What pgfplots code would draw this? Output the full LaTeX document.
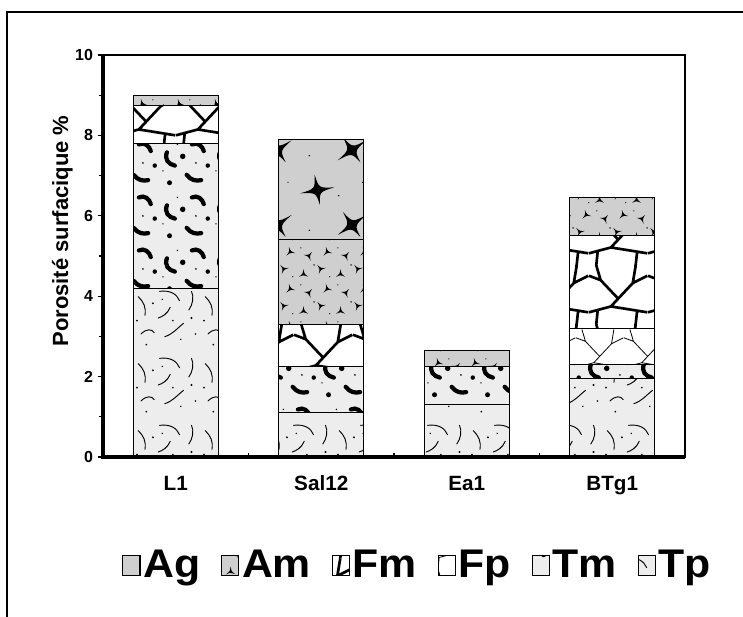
\documentclass[border=0pt]{standalone}
\usepackage{fontspec}
\setmainfont{Liberation Sans}
\newfontfamily\legfont{Liberation Sans}[FakeStretch=1.07]
\usepackage{pgfplots}
\usepackage{pgfplotstable}
\pgfplotsset{compat=1.18}
\usetikzlibrary{patterns.meta}

% little shapes used inside the fill patterns (no "cycle": patterns are built outside a picture)
\newcommand\tri[3]{\fill[shift={(#1pt,#2pt)},rotate=#3] (90:4pt) .. controls (150:0.6pt) .. (210:4pt) .. controls (270:0.6pt) .. (330:4pt) .. controls (30:0.6pt) .. (90:4pt);}
\newcommand\agstar[3]{\fill[shift={(#1pt,#2pt)},rotate=#3] (0:13pt) .. controls (45:2pt) .. (90:12pt) .. controls (135:2pt) .. (180:13pt) .. controls (225:2pt) .. (270:11pt) .. controls (315:2pt) .. (0:13pt);}
\newcommand\netcode{(0,8)--(15,12)--(40,8) (15,12)--(30,28)--(40,33) (0,33)--(8,30)--(5,40) (5,0)--(6,9.6) (30,28)--(32,40) (32,0)--(33,9.12) (8,30)--(20,17.33)}

\tikzdeclarepattern{
  name=Tp, type=uncolored,
  bounding box={(0pt,0pt) and (50pt,50pt)},
  tile size={(50pt,50pt)},
  code={
    \draw[line width=0.7pt, x=1pt, y=1pt, line cap=round]
      (4,40) .. controls (8,36) and (10,32) .. (9,26)
      (20,44) .. controls (28,45) and (33,42) .. (35,37)
      (38,20) .. controls (33,16) and (30,12) .. (24,10)
      (6,12) .. controls (10,16) and (14,16) .. (16,13)
      (44,44) .. controls (46,40) and (45,34) .. (42,30)
      (28,32) .. controls (26,27) and (22,25) .. (19,24);
    \fill (15pt,35pt) circle (0.8pt) (30pt,22pt) circle (0.7pt) (44pt,24pt) circle (0.8pt)
      (10pt,4pt) circle (0.7pt) (36pt,8pt) circle (0.6pt) (22pt,38pt) circle (0.6pt)
      (3pt,22pt) circle (0.7pt) (47pt,12pt) circle (0.6pt);
  }}
\tikzdeclarepattern{
  name=Tm, type=uncolored,
  bounding box={(0pt,0pt) and (40pt,40pt)},
  tile size={(40pt,40pt)},
  code={
    \draw[line width=3.2pt, x=1pt, y=1pt, line cap=round]
      (6,30) .. controls (4,25) and (7,21) .. (12,20)
      (25,36) .. controls (29,38) and (33,35) .. (34,31)
      (21,13) .. controls (24,9) and (28,8) .. (32,9);
    \fill (18pt,27pt) circle (2.1pt) (37pt,20pt) circle (1.7pt) (8pt,7pt) circle (1.9pt)
      (28pt,22pt) circle (0.7pt) (14pt,36pt) circle (0.6pt) (3pt,16pt) circle (0.6pt);
  }}
\tikzdeclarepattern{
  name=Fm, type=uncolored,
  bounding box={(0pt,0pt) and (44pt,44pt)},
  tile size={(44pt,44pt)},
  code={\draw[line width=2pt, x=1.1pt, y=1.1pt] \netcode;}}
\tikzdeclarepattern{
  name=Fp, type=uncolored,
  bounding box={(0pt,0pt) and (36pt,36pt)},
  tile size={(36pt,36pt)},
  code={\draw[line width=0.6pt, x=0.9pt, y=0.9pt] \netcode;}}
\tikzdeclarepattern{
  name=Am, type=uncolored,
  bounding box={(0pt,0pt) and (28pt,28pt)},
  tile size={(28pt,28pt)},
  code={
    \tri{5}{6}{0}\tri{18}{10}{40}\tri{9}{20}{80}\tri{23}{23}{15}
    \fill (13pt,13pt) circle (0.6pt) (25pt,4pt) circle (0.5pt) (3pt,26pt) circle (0.5pt);
  }}
\tikzdeclarepattern{
  name=Ag, type=uncolored,
  bounding box={(0pt,0pt) and (56pt,56pt)},
  tile size={(56pt,56pt)},
  code={
    \agstar{14}{40}{10}\agstar{40}{14}{35}
    \fill (30pt,36pt) circle (0.6pt) (8pt,10pt) circle (0.6pt) (48pt,46pt) circle (0.5pt);
  }}

\pgfplotstableread{
x Tp Tm Fp Fm Am Ag
0 4.2 3.6 0 0.95 0.25 0
1 1.1 1.15 0 1.05 2.1 2.5
2 1.3 0.95 0 0 0.4 0
3 1.95 0.35 0.9 2.3 0.95 0
}\porosite

\pgfplotsset{
  boxleg/.style={legend image code/.code={\draw[##1] (-2pt,-7.5pt) rectangle (11pt,7.5pt);}},
}

\begin{document}
\begin{tikzpicture}
\useasboundingbox (-77.25pt,-120pt) rectangle (480pt,342.75pt);
\draw[line width=1.1pt] (480pt,333.75pt) -- (-72pt,333.75pt) -- (-72pt,-120pt);
\begin{axis}[
  at={(0pt,0pt)}, anchor=south west,
  scale only axis, width=436.5pt, height=301.5pt,
  ybar stacked, bar width=0.586,
  xmin=-0.5, xmax=3.5, ymin=0, ymax=10,
  xtick={0,1,2,3}, xticklabels={L1,Sal12,Ea1,BTg1},
  minor xtick={0.5,1.5,2.5},
  major x tick style={draw=none},
  xtick pos=bottom, xtick align=inside,
  ytick={0,2,...,10}, minor ytick={1,3,...,9},
  ytick pos=left, ytick align=outside,
  major tick length=4pt, minor tick length=3pt,
  tick style={black, line width=0.8pt},
  axis line style={line width=1.2pt},
  /pgf/number format/assume math mode=true,
  yticklabel style={font=\fontsize{12}{14}\selectfont\bfseries},
  xticklabel style={font=\fontsize{15.5}{18}\selectfont\bfseries, text height=11.5pt, text depth=3pt, yshift=-10pt},
  ylabel={Porosité surfacique \%},
  ylabel shift=-5pt,
  ylabel style={font=\fontsize{16.5}{19}\selectfont\bfseries, at={(ticklabel cs:0.562)}},
  legend columns=6, reverse legend,
  legend style={at={(0.541,-0.269)}, anchor=center, draw=none,
    font=\fontsize{30}{32}\selectfont\legfont\bfseries,
    /tikz/every even column/.append style={column sep=13.5pt}},
  after end axis/.code={\draw[line width=2.4pt] (rel axis cs:0,1) -- (rel axis cs:0,0) -- (rel axis cs:1,0);},
]
\addplot[boxleg, draw=black, line width=0.8pt, fill=gray!14, postaction={pattern=Tp}] table[x=x, y=Tp] {\porosite};
\addplot[boxleg, draw=black, line width=0.8pt, fill=gray!14, postaction={pattern=Tm}] table[x=x, y=Tm] {\porosite};
\addplot[boxleg, draw=black, line width=0.8pt, fill=white, postaction={pattern=Fp}] table[x=x, y=Fp] {\porosite};
\addplot[boxleg, draw=black, line width=0.8pt, fill=white, postaction={pattern=Fm}] table[x=x, y=Fm] {\porosite};
\addplot[boxleg, draw=black, line width=0.8pt, fill=gray!38, postaction={pattern=Am}] table[x=x, y=Am] {\porosite};
\addplot[boxleg, draw=black, line width=0.8pt, fill=gray!38, postaction={pattern=Ag}] table[x=x, y=Ag] {\porosite};
\legend{Tp,Tm,Fp,Fm,Am,Ag}
\end{axis}
\end{tikzpicture}
\end{document}
